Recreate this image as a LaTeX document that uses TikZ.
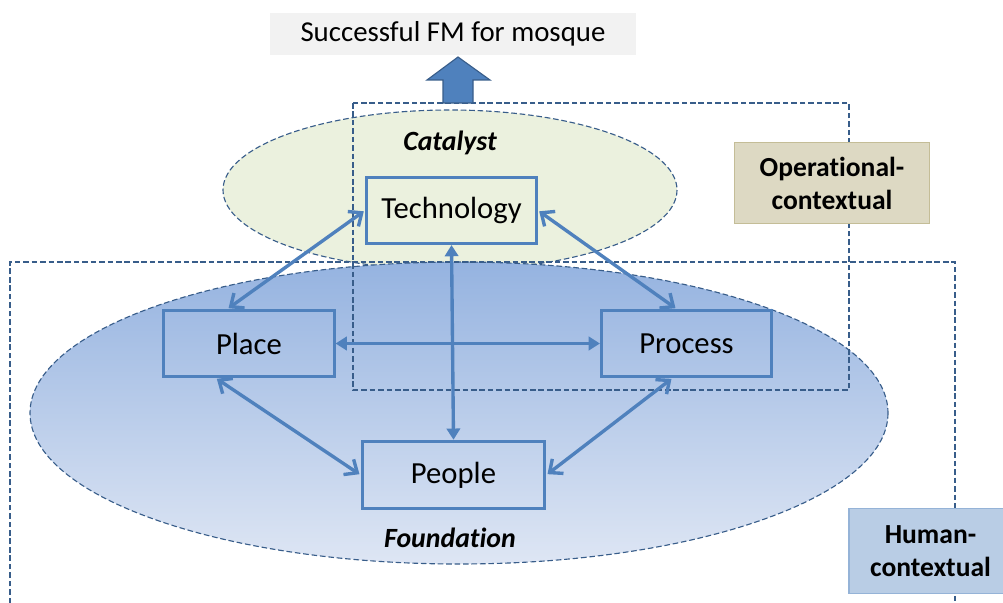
\documentclass[tikz,border=0pt]{standalone}
\usepackage{fontspec}
\setmainfont{Carlito}[Ligatures=NoCommon]
\usetikzlibrary{arrows.meta}
\definecolor{boxblue}{RGB}{79,129,189}
\definecolor{dashblue}{RGB}{56,93,138}
\definecolor{catgreen}{RGB}{235,241,222}
\definecolor{fndtop}{RGB}{149,179,224}
\definecolor{fndbot}{RGB}{222,230,244}
\definecolor{opfill}{RGB}{221,217,195}
\definecolor{opline}{RGB}{196,189,151}
\definecolor{humfill}{RGB}{185,205,229}
\definecolor{humline}{RGB}{149,179,215}

\begin{document}
\begin{tikzpicture}
  [x=0.025cm,y=-0.025cm,
   factor/.style={draw=boxblue,line width=2.1pt,minimum width=121pt,minimum height=47pt,font=\fontsize{21.8}{26}\selectfont},
   ctx/.style={draw=dashblue,line width=1.1pt,dash pattern=on 4pt off 2pt},
   sphere/.style={draw=dashblue,line width=0.8pt,dash pattern=on 4pt off 2pt},
   lbl/.style={font=\fontsize{19.8}{23}\selectfont\bfseries\itshape},
   ctxtag/.style={line width=0.8pt,align=center,minimum height=57pt,font=\fontsize{19.6}{23.5}\selectfont\bfseries},
   link/.style={boxblue,line width=2.4pt,{Straight Barb[length=7.5pt,width=13pt]}-{Straight Barb[length=7.5pt,width=13pt]},shorten <=1pt,shorten >=1pt},
   crosslink/.style={boxblue,line width=2.4pt,{Triangle[length=8pt,width=9.5pt]}-{Triangle[length=8pt,width=9.5pt]}}]
  \clip (0,0) rectangle (1003,603);

  \node[fill=black!5,minimum width=260pt,minimum height=30pt,font=\fontsize{20.5}{24}\selectfont] (goal) at (453,34) {Successful FM for mosque};

  % the two spheres
  \draw[sphere,fill=catgreen] (450,190) ellipse [x radius=227, y radius=80];
  \draw[sphere,top color=fndtop,bottom color=fndbot] (459,413) ellipse [x radius=429, y radius=151];

  % context frames
  \draw[ctx] (353,103) rectangle (849,390);
  \draw[ctx] (10,620) |- (955,262) -- (955,620);
  \draw[fill=boxblue,draw=dashblue,line width=0.8pt] (443,103) -- (443,80) -- (427,80) -- (458,57) -- (490,80) -- (473,80) -- (473,103) -- cycle;

  \node[ctxtag,fill=opfill,draw=opline,minimum width=139pt] (opctx) at (832,183) {Operational-\\contextual};
  \node[ctxtag,fill=humfill,draw=humline,minimum width=116pt,minimum height=60pt] (humctx) at (930.5,551) {Human-\\contextual};

  \node[lbl] (cat) at (450,143) {Catalyst};
  \node[lbl] (fnd) at (450,538) {Foundation};

  \node[factor] (tech)    at (451.5,210.5) {Technology};
  \node[factor] (place)   at (249,343.5)   {Place};
  \node[factor] (process) at (686.5,343.5) {Process};
  \node[factor,minimum width=130pt,minimum height=48pt] (people) at (453.5,475) {People};

  \foreach \from/\to in {tech.west/place.122,tech.east/process.106,place.226/people.west,process.248/people.east}
    \draw[link] (\from) -- (\to);
  \foreach \from/\to in {place.east/process.west,tech.south/people.north}
    \draw[crosslink] (\from) -- (\to);
\end{tikzpicture}
\end{document}
